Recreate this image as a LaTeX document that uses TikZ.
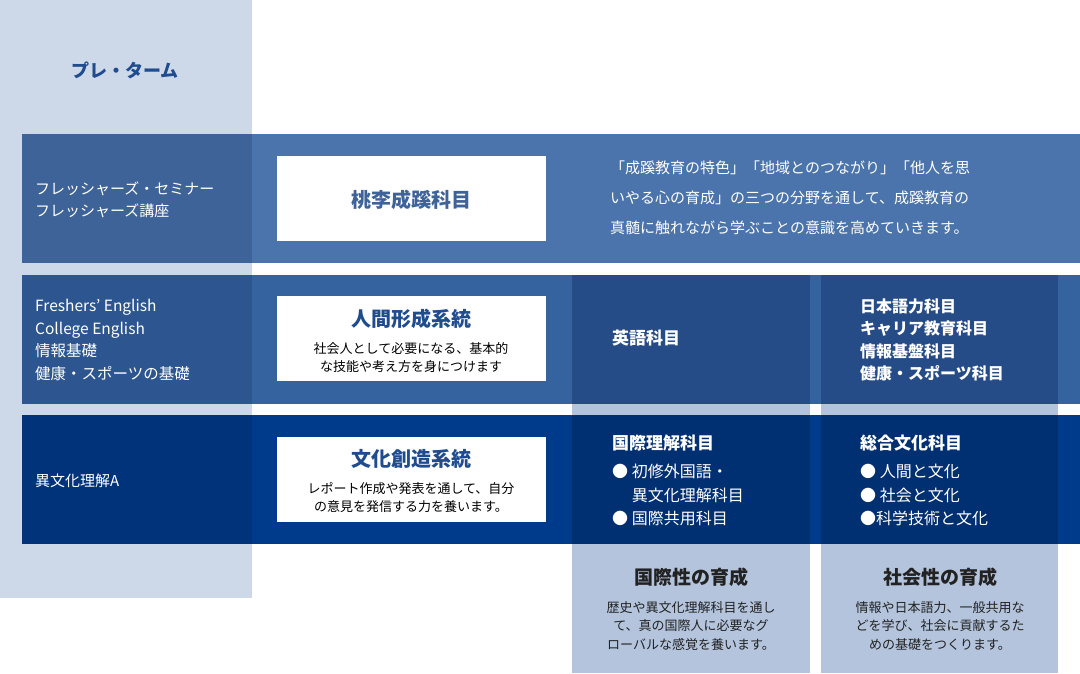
\documentclass[tikz,border=0pt]{standalone}
\usepackage{fontspec}
\setmainfont{Noto Sans CJK JP}
\definecolor{lightcol}{HTML}{CDD8E8}
\definecolor{bA}{HTML}{3E6399}
\definecolor{bAr}{HTML}{4A74AB}
\definecolor{bB}{HTML}{2D5590}
\definecolor{bBr}{HTML}{3563A0}
\definecolor{bBc}{HTML}{264C88}
\definecolor{bC}{HTML}{00337A}
\definecolor{bCr}{HTML}{003A8A}
\definecolor{bCc}{HTML}{002F72}
\definecolor{lowcol}{HTML}{B3C4DC}
\definecolor{headblue}{HTML}{1F4B8F}
\definecolor{darktxt}{HTML}{222222}
\begin{document}
\begin{tikzpicture}[x=1pt,y=-1pt,
  wt/.style={text=white,font=\fontsize{15}{22}\selectfont,anchor=west,align=left,inner sep=0},
  wbox/.style={fill=white,draw=none},
  boxhead/.style={text=headblue,font=\bfseries\fontsize{20}{24}\selectfont,inner sep=0},
  boxsub/.style={text=black,font=\fontsize{13}{18}\selectfont,align=center,inner sep=0},
  colhead/.style={text=white,font=\bfseries\fontsize{17}{22}\selectfont,anchor=west,inner sep=0},
  lowhead/.style={text=darktxt,font=\bfseries\fontsize{19}{24}\selectfont,inner sep=0},
  lowsub/.style={text=darktxt,font=\fontsize{13}{18.5}\selectfont,align=center,inner sep=0}]
\useasboundingbox (0,0) rectangle (1080,673);
\fill[white] (0,0) rectangle (1080,673);
\fill[lightcol] (0,0) rectangle (252,598);
% bands
\fill[bA] (22,134) rectangle (252,263);
\fill[bAr] (252,134) rectangle (1080,263);
\fill[bB] (22,275) rectangle (252,404);
\fill[bBr] (252,275) rectangle (1080,404);
\fill[bC] (22,415) rectangle (252,544);
\fill[bCr] (252,415) rectangle (1080,544);
% columns
\foreach \a/\b in {572/810,821/1058}{
  \fill[lowcol] (\a,275) rectangle (\b,673);
  \fill[bBc] (\a,275) rectangle (\b,404);
  \fill[bCc] (\a,415) rectangle (\b,544);
}
% texts
\node[text=headblue,font=\bfseries\fontsize{18}{22}\selectfont] (pre) at (125,70) {プレ・ターム};
\node[wt] (l1) at (35,200) {フレッシャーズ・セミナー\\フレッシャーズ講座};
\node[wt,font=\fontsize{15.5}{22.5}\selectfont] (l2) at (35,340) {Freshers’ English\\College English\\情報基礎\\健康・スポーツの基礎};
\node[wt] (l3) at (35,481) {異文化理解A};
% white boxes
\fill[wbox] (277,156) rectangle (546,241);
\fill[wbox] (277,296) rectangle (546,381);
\fill[wbox] (277,437) rectangle (546,522);
\node[boxhead,text=bA] (h1) at (411,200) {桃李成蹊科目};
\node[boxhead] (h2) at (411,319) {人間形成系統};
\node[boxsub] (s2) at (411,358) {社会人として必要になる、基本的\\な技能や考え方を身につけます};
\node[boxhead] (h3) at (411,459) {文化創造系統};
\node[boxsub] (s3) at (411,498) {レポート作成や発表を通して、自分\\の意見を発信する力を養います。};
\node[wt,font=\fontsize{15}{30}\selectfont] (r1) at (610,198) {「成蹊教育の特色」「地域とのつながり」「他人を思\\いやる心の育成」の三つの分野を通して、成蹊教育の\\真髄に触れながら学ぶことの意識を高めていきます。};
\node[colhead] (e1) at (612,338) {英語科目};
\node[colhead,font=\bfseries\fontsize{16}{22.5}\selectfont,align=left] (e2) at (860,340) {日本語力科目\\キャリア教育科目\\情報基盤科目\\健康・スポーツ科目};
\node[colhead] (k1) at (612,443) {国際理解科目};
\node[wt,font=\fontsize{16}{23.5}\selectfont] (k2) at (612,495) {● 初修外国語・\\\phantom{● }異文化理解科目\\● 国際共用科目};
\node[colhead] (g1) at (860,443) {総合文化科目};
\node[wt,font=\fontsize{16}{23.5}\selectfont] (g2) at (860,495) {● 人間と文化\\● 社会と文化\\●科学技術と文化};
\node[lowhead] (n1) at (691,577) {国際性の育成};
\node[lowsub] (n2) at (691,626) {歴史や異文化理解科目を通し\\て、真の国際人に必要なグ\\ローバルな感覚を養います。};
\node[lowhead] (n3) at (940,577) {社会性の育成};
\node[lowsub] (n4) at (940,626) {情報や日本語力、一般共用な\\どを学び、社会に貢献するた\\めの基礎をつくります。};
\end{tikzpicture}
\end{document}
